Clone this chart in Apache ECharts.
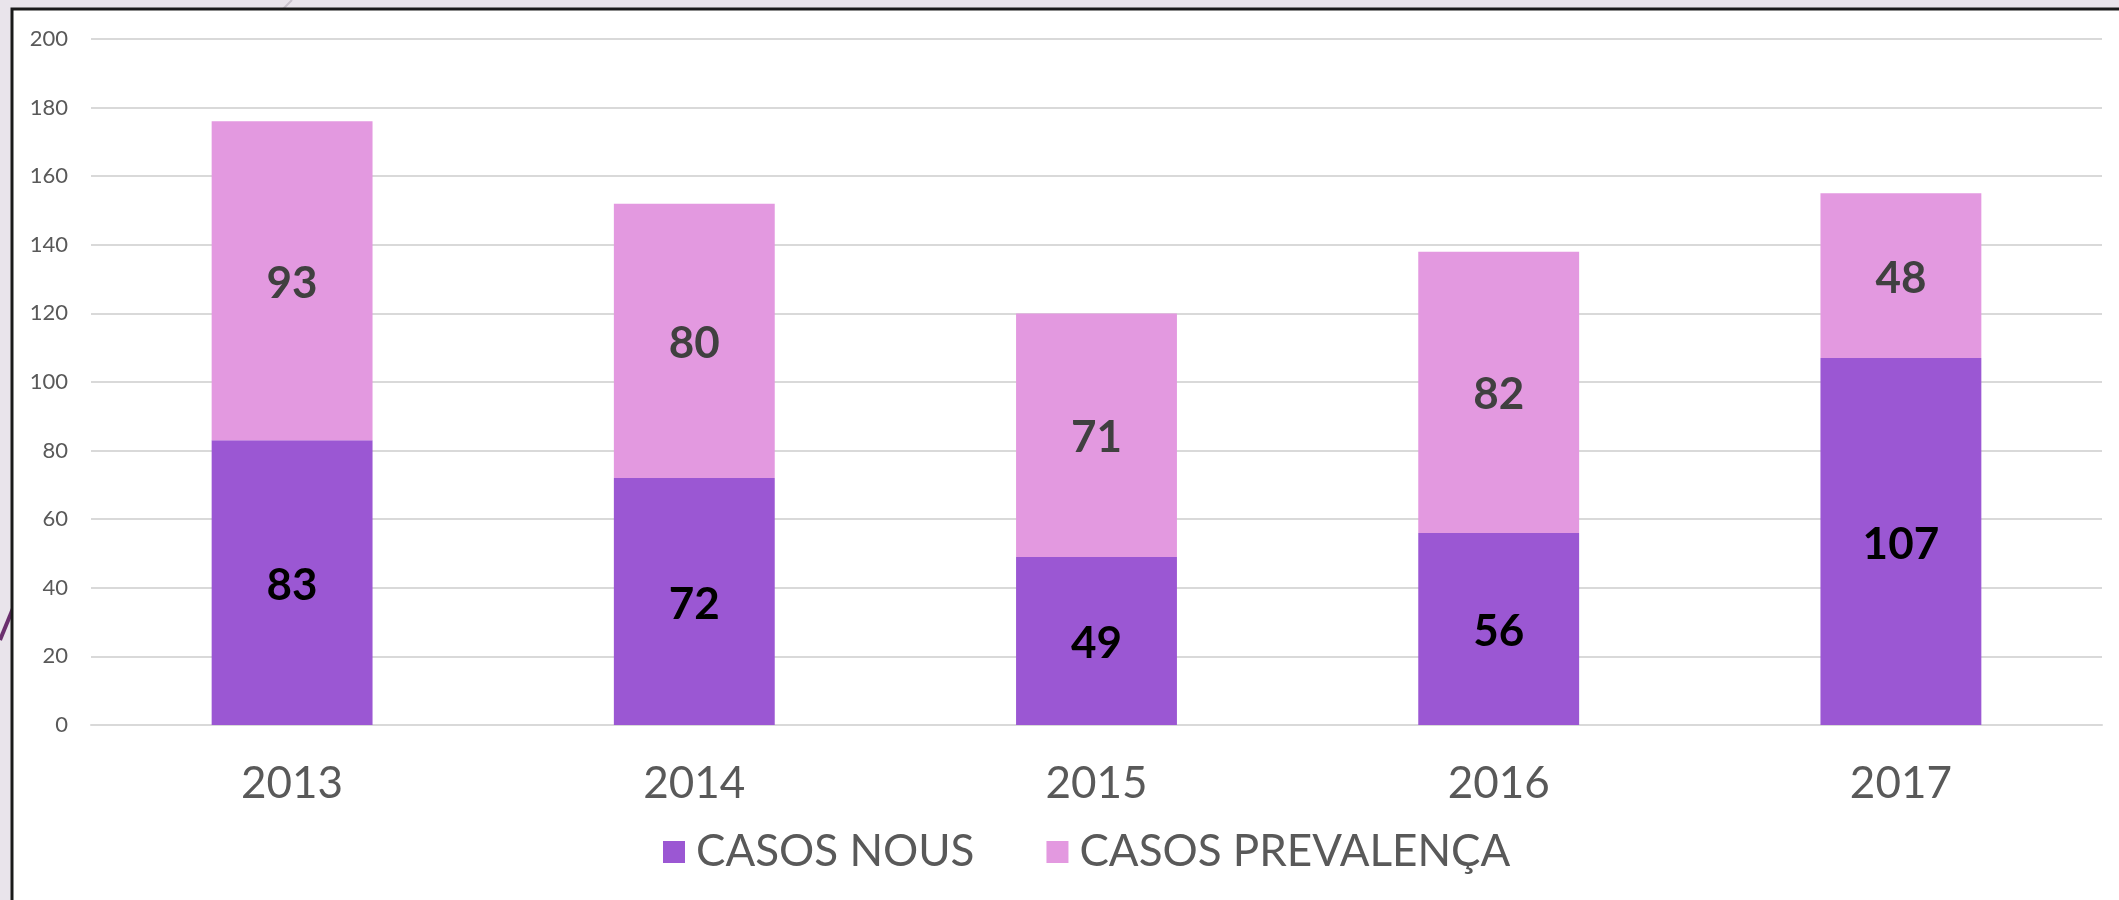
<!DOCTYPE html>
<html>
<head>
<meta charset="utf-8">
<script src="https://cdn.jsdelivr.net/npm/echarts@6/dist/echarts.min.js"></script>
<style>
  html, body { margin: 0; padding: 0; background: #e9e4eb; }
  #main { width: 2119px; height: 900px; }
</style>
</head>
<body>
<div id="main"></div>
<script>
const years = ["2013", "2014", "2015", "2016", "2017"];
const casosNous = [83, 72, 49, 56, 107];
const casosPrevalenca = [93, 80, 71, 82, 48];
const yTicks = { min: 0, max: 200, interval: 20 };

const chart = echarts.init(document.getElementById("main"));

const font = "Lato, 'Noto Sans', sans-serif";

const option = {
  backgroundColor: "#e9e4eb",
  animation: false,
  color: ["#9b57d3", "#e399e0"],
  graphic: [
    // decorative lines behind the panel
    { type: "line", z: -20, shape: { x1: 0, y1: 640, x2: 14, y2: 606 },
      style: { stroke: "#6b2f6e", lineWidth: 4 } },
    { type: "line", z: -20, shape: { x1: 282, y1: 10, x2: 292, y2: 0 },
      style: { stroke: "#c9c2cc", lineWidth: 2 } },
    // white panel with black border on left and top
    { type: "rect", z: -10, shape: { x: 12, y: 9, width: 2200, height: 1000 },
      style: { fill: "#ffffff", stroke: "#1a1a1a", lineWidth: 3 } }
  ],
  grid: { left: 91, right: 17, top: 39, bottom: 175 },
  legend: {
    bottom: 21,
    left: 658,
    itemWidth: 22,
    itemHeight: 22,
    itemGap: 72,
    icon: "rect",
    textStyle: { fontFamily: font, fontSize: 44, color: "#595959", padding: [0, 0, 0, 6] },
    data: ["CASOS NOUS", "CASOS PREVALENÇA"]
  },
  xAxis: {
    type: "category",
    data: years,
    axisLine: { lineStyle: { color: "#d9d9d9", width: 2 } },
    axisTick: { show: false },
    axisLabel: { fontFamily: font, fontSize: 44, color: "#595959", margin: 37 }
  },
  yAxis: {
    type: "value",
    min: yTicks.min,
    max: yTicks.max,
    interval: yTicks.interval,
    splitLine: { lineStyle: { color: "#d9d9d9", width: 2 } },
    axisLabel: { fontFamily: font, fontSize: 22, color: "#595959", margin: 23 }
  },
  series: [
    {
      name: "CASOS NOUS",
      type: "bar",
      stack: "total",
      barWidth: "40%",
      data: casosNous,
      label: {
        show: true, position: "inside", offset: [0, 3],
        fontFamily: font, fontSize: 44, fontWeight: "bold", color: "#000000"
      }
    },
    {
      name: "CASOS PREVALENÇA",
      type: "bar",
      stack: "total",
      barWidth: "40%",
      data: casosPrevalenca,
      label: {
        show: true, position: "inside", offset: [0, 3],
        fontFamily: font, fontSize: 44, fontWeight: "bold", color: "#404040"
      }
    }
  ]
};

chart.setOption(option);
</script>
</body>
</html>
